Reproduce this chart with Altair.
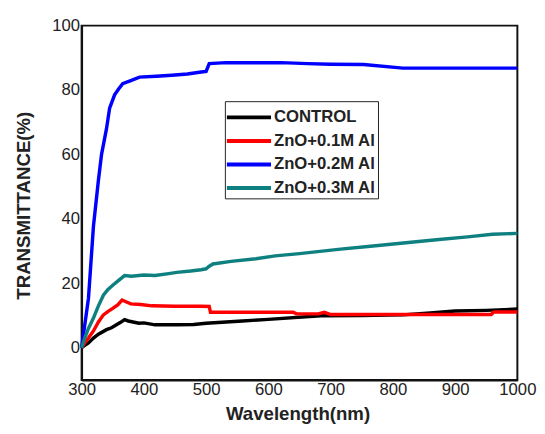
import altair as alt
import pandas as pd

series_names = ["CONTROL", "ZnO+0.1M Al", "ZnO+0.2M Al", "ZnO+0.3M Al"]
series_colors = ["#000000", "#ff0000", "#0000ff", "#0f8080"]

control_x = [300, 305, 311, 319, 327, 340, 348, 356, 362, 369, 375, 392, 400, 418, 453, 480, 500, 558, 600, 684, 750, 816, 860, 900, 950, 1000]
control_y = [0, 0.7, 1.5, 3, 4.2, 5.6, 6.2, 7.1, 7.8, 8.7, 8.3, 7.6, 7.7, 7.1, 7.1, 7.2, 7.6, 8.3, 8.8, 9.9, 10, 10.2, 10.8, 11.4, 11.6, 12]

zno01_x = [300, 305, 311, 319, 327, 335, 342, 350, 358, 365, 372, 379, 395, 413, 450, 492, 505, 507, 540, 600, 640, 645, 680, 690, 700, 750, 800, 900, 958, 962, 1000]
zno01_y = [0, 1.5, 3, 5.2, 8, 10.2, 11.2, 12.2, 13.3, 14.8, 14.2, 13.6, 13.4, 13, 12.9, 12.9, 12.8, 11, 11, 11, 11, 10.5, 10.5, 11, 10.3, 10.3, 10.3, 10.3, 10.3, 11.1, 11.1]

zno02_x = [300, 305, 311, 319, 327, 332, 340, 345, 353, 360, 366, 380, 393, 420, 445, 470, 492, 500, 505, 532, 580, 621, 663, 700, 753, 816, 900, 1000]
zno02_y = [0, 7, 15.3, 37.7, 52, 60, 68, 74.4, 78.5, 80.5, 82, 83, 84, 84.3, 84.6, 85, 85.6, 85.8, 88.2, 88.5, 88.5, 88.5, 88.2, 88, 87.9, 86.8, 86.8, 86.8]

zno03_x = [300, 305, 311, 319, 327, 335, 342, 350, 360, 369, 380, 400, 418, 440, 453, 475, 492, 500, 505, 511, 540, 580, 611, 650, 716, 760, 821, 870, 920, 960, 1000]
zno03_y = [0, 3, 6, 9.2, 13, 16.3, 18, 19.4, 21, 22.4, 22.2, 22.6, 22.4, 23, 23.4, 23.8, 24.2, 24.5, 25.3, 26, 26.8, 27.6, 28.5, 29.2, 30.6, 31.4, 32.6, 33.5, 34.4, 35.2, 35.5]

x_ticks = [300, 400, 500, 600, 700, 800, 900, 1000]
y_ticks = [0, 20, 40, 60, 80, 100]

rows = []
for name, xs, ys in zip(series_names,
                        [control_x, zno01_x, zno02_x, zno03_x],
                        [control_y, zno01_y, zno02_y, zno03_y]):
    for xv, yv in zip(xs, ys):
        rows.append({"wl": xv, "T": yv, "series": name})
df = pd.DataFrame(rows)

label_font = "Liberation Sans"

chart = alt.Chart(df).mark_line(strokeWidth=3.5).encode(
    x=alt.X("wl:Q", scale=alt.Scale(domain=[300, 1000], nice=False, zero=False),
            axis=alt.Axis(values=x_ticks, format="d", title="Wavelength(nm)", ticks=False,
                          labelFontSize=17, labelPadding=2, labelFont=label_font,
                          labelColor="#222222", grid=False,
                          titleFont="Liberation Sans", titleFontSize=19, titleFontWeight="bold",
                          titleColor="#222222",
                          titleX=220, titleY=40, titleBaseline="alphabetic", titleAnchor="middle",
                          labelFlush=False)),
    y=alt.Y("T:Q", scale=alt.Scale(domain=[-10, 100], nice=False, zero=False),
            axis=alt.Axis(values=y_ticks, format="d", title="TRANSMITTANCE(%)", ticks=False,
                          labelFontSize=17, labelPadding=2, labelFont=label_font,
                          labelColor="#222222", grid=False,
                          titleFont="Liberation Sans", titleFontSize=19, titleFontWeight="bold",
                          titleColor="#222222",
                          titleX=-59, titleY=183, titleAngle=-90, titleAlign="center",
                          titleBaseline="middle", labelFlush=False)),
    color=alt.Color("series:N", scale=alt.Scale(domain=series_names, range=series_colors),
                    legend=alt.Legend(title=None, orient="none", legendX=146, legendY=77,
                                      symbolType="M-1.8,0H1.8", symbolStrokeWidth=4, symbolSize=625,
                                      symbolOffset=8,
                                      labelFont="Liberation Sans", labelFontSize=17,
                                      labelFontWeight="bold", labelColor="#222222",
                                      labelOffset=11, padding=2, strokeColor="#222222",
                                      fillColor="white", rowPadding=1)),
).properties(
    width=444, height=361,
    autosize=alt.AutoSizeParams(type="none"),
    padding={"left": 75, "top": 14, "right": 20, "bottom": 43},
).configure_view(
    stroke="#111111", strokeWidth=2
).configure_axis(
    domainColor="#111111", domainWidth=2
)

chart.save("out.html", embed_options={"renderer": "svg", "actions": False})
